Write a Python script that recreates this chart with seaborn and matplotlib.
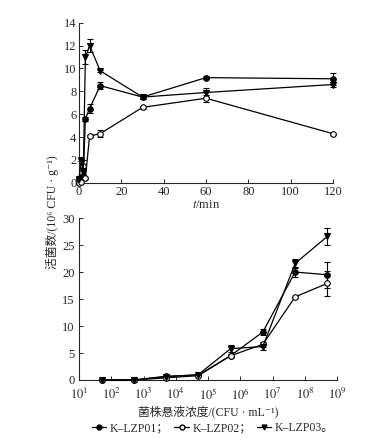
import numpy as np
import pandas as pd
import seaborn as sns
import matplotlib.pyplot as plt

# time course data (top panel)
t_min = [0, 1, 2, 3, 5, 10, 30, 60, 120]
lzp01_t = [0.3, 0.5, 0.6, 5.6, 6.5, 8.5, 7.5, 9.2, 9.1]
lzp01_t_err = [0.1, 0.1, 0.1, 0.2, 0.4, 0.3, 0.2, 0.1, 0.5]
lzp02_t = [0.0, 0.1, 1.5, 0.4, 4.1, 4.3, 6.6, 7.4, 4.3]
lzp02_t_err = [0.0, 0.1, 0.5, 0.1, 0.1, 0.3, 0.1, 0.3, 0.1]
lzp03_t = [0.3, 2.0, 1.0, 11.0, 12.0, 9.8, 7.5, 7.9, 8.6]
lzp03_t_err = [0.1, 0.1, 0.3, 0.6, 0.6, 0.1, 0.2, 0.4, 0.2]

# concentration data (bottom panel)
conc = [5e1, 5e2, 5e3, 5e4, 5e5, 5e6, 5e7, 5e8]
lzp01_c = [0.0, 0.0, 0.7, 0.9, 4.5, 8.9, 20.0, 19.5]
lzp01_c_err = [0.0, 0.0, 0.1, 0.1, 0.3, 0.6, 1.0, 2.4]
lzp02_c = [0.0, 0.0, 0.4, 0.8, 4.5, 6.6, 15.4, 17.9]
lzp02_c_err = [0.0, 0.0, 0.1, 0.1, 0.3, 0.4, 0.2, 2.3]
lzp03_c = [0.0, 0.0, 0.6, 1.0, 5.8, 6.2, 21.6, 26.6]
lzp03_c_err = [0.0, 0.0, 0.1, 0.1, 0.7, 0.7, 0.8, 1.5]

names = ["K\u2013LZP01；", "K\u2013LZP02；", "K\u2013LZP03。"]

sns.set_style("ticks")
plt.rcParams["font.family"] = ["Liberation Serif", "Noto Sans CJK SC", "DejaVu Sans"]
plt.rcParams["mathtext.fontset"] = "stix"
plt.rcParams["font.size"] = 9

fig = plt.figure(figsize=(3.8, 4.46), dpi=100)
ax1 = fig.add_axes([0.208, 0.590, 0.668, 0.359])
ax2 = fig.add_axes([0.208, 0.148, 0.679, 0.363])

styles = [
    dict(marker="o", markerfacecolor="black"),
    dict(marker="o", markerfacecolor="white"),
    dict(marker="v", markerfacecolor="black"),
]


def draw(ax, x, ys, errs):
    handles = []
    for y, e, st, name in zip(ys, errs, styles, names):
        df = pd.DataFrame({"x": x, "y": y})
        sns.lineplot(data=df, x="x", y="y", ax=ax, color="black", lw=0.9,
                     markersize=4, markeredgecolor="black", markeredgewidth=0.8,
                     clip_on=False, zorder=3, **st)
        ax.errorbar(x, y, yerr=e, fmt="none", ecolor="black", elinewidth=0.8,
                    capsize=2.5, capthick=0.8, clip_on=False, zorder=2)
        handles.append(plt.Line2D([], [], color="black", lw=0.9, markersize=3.5,
                                  markeredgecolor="black", **st))
    return handles


handles = draw(ax1, t_min, [lzp01_t, lzp02_t, lzp03_t],
               [lzp01_t_err, lzp02_t_err, lzp03_t_err])
ax1.set_xlim(0, 120)
ax1.set_ylim(0, 14)
ax1.set_xticks(range(0, 121, 20))
ax1.set_yticks(range(0, 15, 2))
ax1.set_xlabel("$t$/min", labelpad=1, fontsize=9)
ax1.set_ylabel("")

draw(ax2, conc, [lzp01_c, lzp02_c, lzp03_c],
     [lzp01_c_err, lzp02_c_err, lzp03_c_err])
ax2.set_xscale("log")
ax2.set_xlim(1e1, 1e9)
ax2.set_ylim(0, 30)
ax2.set_xticks([10.0 ** k for k in range(1, 10)])
ax2.set_xticklabels([f"$10^{{{k}}}$" for k in range(1, 10)])
ax2.set_yticks(range(0, 31, 5))
ax2.set_xlabel("菌株悬液浓度/(CFU · mL⁻¹)", labelpad=2, fontsize=8.5)
ax2.set_ylabel("")

for ax in (ax1, ax2):
    sns.despine(ax=ax)
    for s in ("left", "bottom"):
        ax.spines[s].set_linewidth(0.8)
    ax.tick_params(axis="both", which="major", direction="in", length=3,
                   width=0.7, labelsize=9, pad=2)
    ax.tick_params(axis="x", which="minor", direction="in", length=2, width=0.5)
ax2.tick_params(axis="x", which="major", pad=5)
ax2.tick_params(axis="y", which="major", pad=3)

fig.text(0.137, 0.525, "活菌数/(10⁶ CFU · g⁻¹)", rotation=90,
         ha="center", va="center", fontsize=8.5)

fig.legend(handles, names, loc="center", bbox_to_anchor=(0.56, 0.04), ncol=3,
           frameon=False, fontsize=8.5, handlelength=1.2, handletextpad=0.3,
           columnspacing=0.5)

fig.savefig("out.png", dpi=100)
